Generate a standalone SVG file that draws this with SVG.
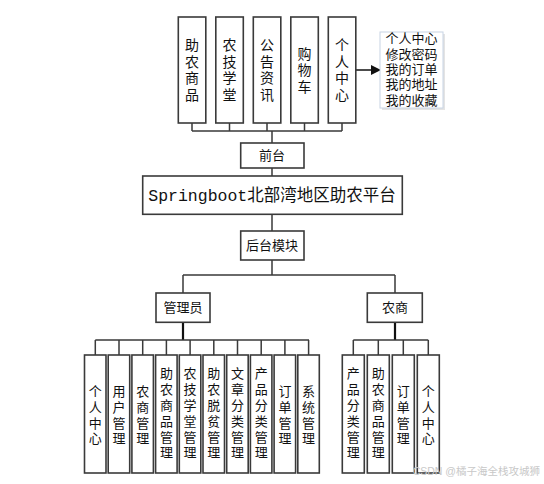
<svg xmlns="http://www.w3.org/2000/svg" width="544" height="484" viewBox="0 0 544 484">
<style>
.box{fill:#fff;stroke:#3a3a3a;stroke-width:1.6}
.t{font-family:"Liberation Sans","Noto Sans CJK SC","Noto Sans CJK JP",sans-serif;font-size:14px;fill:#111;text-anchor:middle}
.s{font-size:13px}
.ln{fill:none;stroke:#3a3a3a;stroke-width:1.5}
.thick{stroke:#111;stroke-width:2.2}
</style>
<defs>
<marker id="arr" markerWidth="10" markerHeight="10" refX="9" refY="5" orient="auto" markerUnits="userSpaceOnUse">
<path d="M0,0 L10,5 L0,10 Z" fill="#111"/>
</marker>
</defs>
<rect width="544" height="484" fill="#fff"/>

<g id="connectors">
<path class="ln" d="M192,123 V131 M229.5,123 V131 M267,123 V131 M304.5,123 V131 M342,123 V131 M192,131 H342"/>
<path class="ln" d="M272,131 V143 M272,168 V176 M272,214 V231 M272,260 V275 M183,275 H395 M183,275 V293 M395,275 V293"/>
<path class="ln thick" d="M183,322 V340 M395,322 V340"/>
<path class="ln" d="M95.3,340 H309 M95.3,340 V355 M119,340 V355 M142.7,340 V355 M166.4,340 V355 M190.1,340 V355 M213.8,340 V355 M237.5,340 V355 M261.2,340 V355 M284.9,340 V355 M308.6,340 V355"/>
<path class="ln" d="M353.3,340 H428.3 M353.3,340 V355 M378.3,340 V355 M403.3,340 V355 M428.3,340 V355"/>
<line class="ln" x1="356" y1="70" x2="380" y2="70" marker-end="url(#arr)" style="stroke:#111"/>
</g>

<g id="front1"><rect class="box" x="178.3" y="17" width="27.5" height="106"/>
<text class="t" x="192"><tspan x="192" y="50.3">助</tspan><tspan x="192" y="66.8">农</tspan><tspan x="192" y="83.3">商</tspan><tspan x="192" y="99.8">品</tspan></text></g>
<g id="front2"><rect class="box" x="215.8" y="17" width="27.5" height="106"/>
<text class="t"><tspan x="229.5" y="50.3">农</tspan><tspan x="229.5" y="66.8">技</tspan><tspan x="229.5" y="83.3">学</tspan><tspan x="229.5" y="99.8">堂</tspan></text></g>
<g id="front3"><rect class="box" x="253.3" y="17" width="27.5" height="106"/>
<text class="t"><tspan x="267" y="50.3">公</tspan><tspan x="267" y="66.8">告</tspan><tspan x="267" y="83.3">资</tspan><tspan x="267" y="99.8">讯</tspan></text></g>
<g id="front4"><rect class="box" x="290.8" y="17" width="27.5" height="106"/>
<text class="t"><tspan x="304.5" y="58.5">购</tspan><tspan x="304.5" y="75">物</tspan><tspan x="304.5" y="91.5">车</tspan></text></g>
<g id="front5"><rect class="box" x="328.3" y="17" width="27.5" height="106"/>
<text class="t"><tspan x="342" y="50.3">个</tspan><tspan x="342" y="66.8">人</tspan><tspan x="342" y="83.3">中</tspan><tspan x="342" y="99.8">心</tspan></text></g>

<g id="personal-list">
<rect x="382" y="34" width="63" height="76" fill="#e4e4e4"/>
<rect x="380" y="32" width="63" height="76" fill="#fff" stroke="#c8d4e4" stroke-width="1"/>
<text class="t s"><tspan x="411.5" y="43">个人中心</tspan><tspan x="411.5" y="58.5">修改密码</tspan><tspan x="411.5" y="73.5">我的订单</tspan><tspan x="411.5" y="89">我的地址</tspan><tspan x="411.5" y="104.5">我的收藏</tspan></text>
</g>

<g id="qiantai"><rect class="box" x="240.7" y="143" width="63.3" height="25"/>
<text class="t s" x="272" y="160">前台</text></g>

<g id="platform"><rect class="box" x="142.7" y="176" width="259.6" height="38.3"/>
<text x="272" y="201" style="font-family:'Liberation Mono','Noto Sans CJK SC',monospace;font-size:16.5px;fill:#111;text-anchor:middle">Springboot北部湾地区助农平台</text></g>

<g id="houtai"><rect class="box" x="240.7" y="231" width="63.3" height="29"/>
<text class="t s" x="272" y="250">后台模块</text></g>

<g id="admin"><rect class="box" x="156" y="293" width="54" height="29.3"/>
<text class="t s" x="183" y="312">管理员</text></g>

<g id="farmer"><rect class="box" x="367.3" y="293" width="55" height="29.3"/>
<text class="t s" x="395" y="312">农商</text></g>

<g id="a1"><rect class="box" x="84.5" y="355" width="21.5" height="118"/>
<text class="t s"><tspan x="95.3" y="396">个</tspan><tspan x="95.3" y="411.8">人</tspan><tspan x="95.3" y="427.6">中</tspan><tspan x="95.3" y="443.4">心</tspan></text></g>
<g id="a2"><rect class="box" x="108.2" y="355" width="21.5" height="118"/>
<text class="t s"><tspan x="119" y="396">用</tspan><tspan x="119" y="411.8">户</tspan><tspan x="119" y="427.6">管</tspan><tspan x="119" y="443.4">理</tspan></text></g>
<g id="a3"><rect class="box" x="131.9" y="355" width="21.5" height="118"/>
<text class="t s"><tspan x="142.7" y="396">农</tspan><tspan x="142.7" y="411.8">商</tspan><tspan x="142.7" y="427.6">管</tspan><tspan x="142.7" y="443.4">理</tspan></text></g>
<g id="a4"><rect class="box" x="155.6" y="355" width="21.5" height="118"/>
<text class="t s"><tspan x="166.4" y="378.4">助</tspan><tspan x="166.4" y="394.2">农</tspan><tspan x="166.4" y="410">商</tspan><tspan x="166.4" y="425.8">品</tspan><tspan x="166.4" y="441.6">管</tspan><tspan x="166.4" y="457.4">理</tspan></text></g>
<g id="a5"><rect class="box" x="179.3" y="355" width="21.5" height="118"/>
<text class="t s"><tspan x="190.1" y="378.4">农</tspan><tspan x="190.1" y="394.2">技</tspan><tspan x="190.1" y="410">学</tspan><tspan x="190.1" y="425.8">堂</tspan><tspan x="190.1" y="441.6">管</tspan><tspan x="190.1" y="457.4">理</tspan></text></g>
<g id="a6"><rect class="box" x="203" y="355" width="21.5" height="118"/>
<text class="t s"><tspan x="213.8" y="378.4">助</tspan><tspan x="213.8" y="394.2">农</tspan><tspan x="213.8" y="410">脱</tspan><tspan x="213.8" y="425.8">贫</tspan><tspan x="213.8" y="441.6">管</tspan><tspan x="213.8" y="457.4">理</tspan></text></g>
<g id="a7"><rect class="box" x="226.7" y="355" width="21.5" height="118"/>
<text class="t s"><tspan x="237.5" y="378.4">文</tspan><tspan x="237.5" y="394.2">章</tspan><tspan x="237.5" y="410">分</tspan><tspan x="237.5" y="425.8">类</tspan><tspan x="237.5" y="441.6">管</tspan><tspan x="237.5" y="457.4">理</tspan></text></g>
<g id="a8"><rect class="box" x="250.4" y="355" width="21.5" height="118"/>
<text class="t s"><tspan x="261.2" y="378.4">产</tspan><tspan x="261.2" y="394.2">品</tspan><tspan x="261.2" y="410">分</tspan><tspan x="261.2" y="425.8">类</tspan><tspan x="261.2" y="441.6">管</tspan><tspan x="261.2" y="457.4">理</tspan></text></g>
<g id="a9"><rect class="box" x="274.1" y="355" width="21.5" height="118"/>
<text class="t s"><tspan x="284.9" y="396">订</tspan><tspan x="284.9" y="411.8">单</tspan><tspan x="284.9" y="427.6">管</tspan><tspan x="284.9" y="443.4">理</tspan></text></g>
<g id="a10"><rect class="box" x="297.8" y="355" width="21.5" height="118"/>
<text class="t s"><tspan x="308.6" y="396">系</tspan><tspan x="308.6" y="411.8">统</tspan><tspan x="308.6" y="427.6">管</tspan><tspan x="308.6" y="443.4">理</tspan></text></g>

<g id="f1"><rect class="box" x="342.3" y="355" width="22" height="118"/>
<text class="t s"><tspan x="353.3" y="378.4">产</tspan><tspan x="353.3" y="394.2">品</tspan><tspan x="353.3" y="410">分</tspan><tspan x="353.3" y="425.8">类</tspan><tspan x="353.3" y="441.6">管</tspan><tspan x="353.3" y="457.4">理</tspan></text></g>
<g id="f2"><rect class="box" x="367.3" y="355" width="22" height="118"/>
<text class="t s"><tspan x="378.3" y="378.4">助</tspan><tspan x="378.3" y="394.2">农</tspan><tspan x="378.3" y="410">商</tspan><tspan x="378.3" y="425.8">品</tspan><tspan x="378.3" y="441.6">管</tspan><tspan x="378.3" y="457.4">理</tspan></text></g>
<g id="f3"><rect class="box" x="392.3" y="355" width="22" height="118"/>
<text class="t s"><tspan x="403.3" y="396">订</tspan><tspan x="403.3" y="411.8">单</tspan><tspan x="403.3" y="427.6">管</tspan><tspan x="403.3" y="443.4">理</tspan></text></g>
<g id="f4"><rect class="box" x="417.3" y="355" width="22" height="118"/>
<text class="t s"><tspan x="428.3" y="396">个</tspan><tspan x="428.3" y="411.8">人</tspan><tspan x="428.3" y="427.6">中</tspan><tspan x="428.3" y="443.4">心</tspan></text></g>

<text x="540" y="475" style="font-family:'Liberation Sans','Noto Sans CJK SC',sans-serif;font-size:10.5px;fill:#c8c8c8;text-anchor:end">CSDN @橘子海全栈攻城狮</text>
</svg>
